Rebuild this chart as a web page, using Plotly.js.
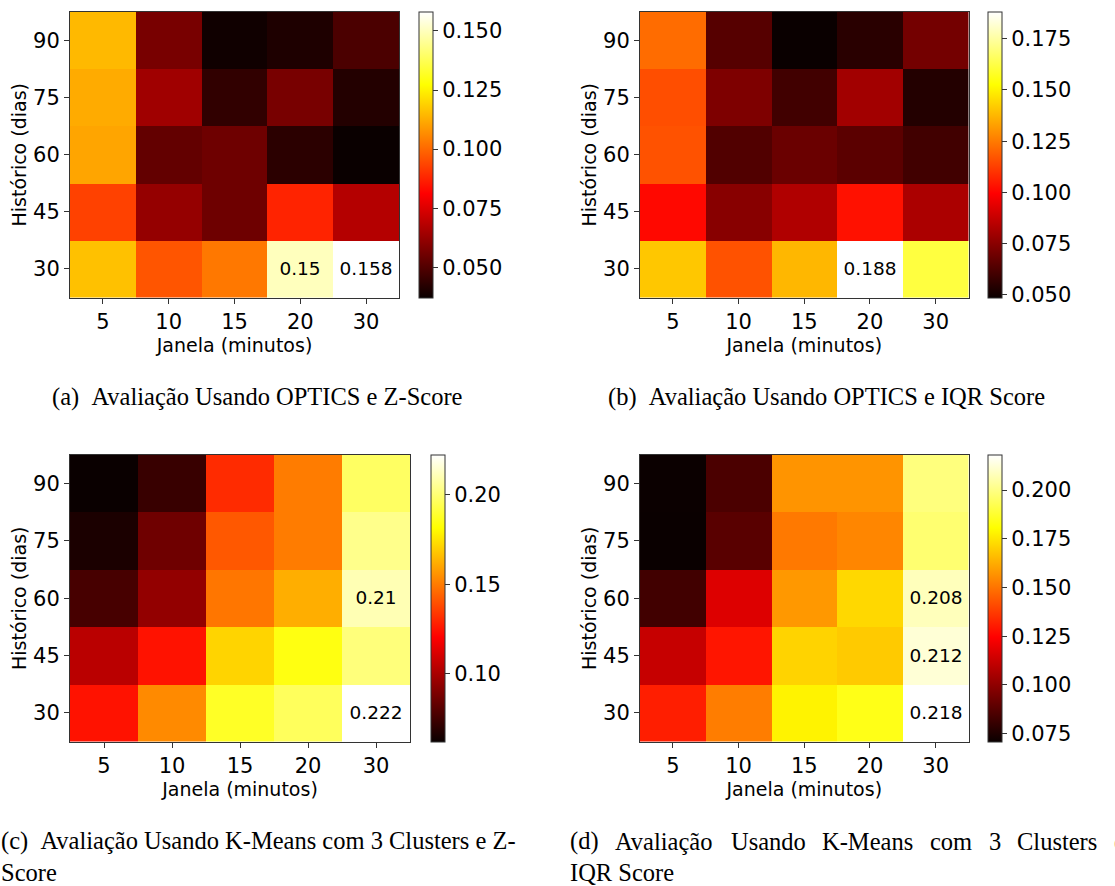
<!DOCTYPE html>
<html>
<head>
<meta charset="utf-8">
<script src="https://cdn.plot.ly/plotly-3.0.1.min.js"></script>
<style>
  html, body { margin: 0; padding: 0; background: #fff; }
  #chart { width: 1115px; height: 886px; }
</style>
</head>
<body>
<div id="chart"></div>
<script>
// Categories
const janela = ['5', '10', '15', '20', '30'];          // x: Janela (minutos)
const historico = ['30', '45', '60', '75', '90'];      // y: Histórico (dias), bottom to top

// (a) OPTICS e Z-Score — rows follow historico order
const zA = [
  [0.116, 0.0965, 0.1028, 0.150, 0.158],
  [0.093, 0.062, 0.055, 0.0875, 0.0676],
  [0.111, 0.053, 0.055, 0.043, 0.037],
  [0.112, 0.064, 0.044, 0.0568, 0.0415],
  [0.1146, 0.0568, 0.038, 0.0406, 0.0487]
];
const textA = [
  ['', '', '', '0.15', '0.158'],
  ['', '', '', '', ''],
  ['', '', '', '', ''],
  ['', '', '', '', ''],
  ['', '', '', '', '']
];
const ticksA = [0.050, 0.075, 0.100, 0.125, 0.150];

// (b) OPTICS e IQR Score
const zB = [
  [0.141, 0.1166, 0.1376, 0.188, 0.1615],
  [0.101, 0.0747, 0.083, 0.103, 0.082],
  [0.1166, 0.0632, 0.0684, 0.0653, 0.060],
  [0.1156, 0.0726, 0.060, 0.080, 0.0538],
  [0.122, 0.0642, 0.0485, 0.055, 0.0705]
];
const textB = [
  ['', '', '', '0.188', ''],
  ['', '', '', '', ''],
  ['', '', '', '', ''],
  ['', '', '', '', ''],
  ['', '', '', '', '']
];
const ticksB = [0.050, 0.075, 0.100, 0.125, 0.150, 0.175];

// (c) K-Means 3 Clusters e Z-Score
const zC = [
  [0.1246, 0.1535, 0.1875, 0.196, 0.222],
  [0.104, 0.1246, 0.171, 0.184, 0.201],
  [0.0766, 0.0946, 0.1486, 0.162, 0.210],
  [0.066, 0.0861, 0.1415, 0.150, 0.2035],
  [0.062, 0.073, 0.1306, 0.150, 0.197]
];
const textC = [
  ['', '', '', '', '0.222'],
  ['', '', '', '', ''],
  ['', '', '', '', '0.21'],
  ['', '', '', '', ''],
  ['', '', '', '', '']
];
const ticksC = [0.10, 0.15, 0.20];

// (d) K-Means 3 Clusters e IQR Score
const zD = [
  [0.131, 0.152, 0.178, 0.184, 0.218],
  [0.112, 0.129, 0.171, 0.169, 0.212],
  [0.0828, 0.117, 0.158, 0.172, 0.208],
  [0.0707, 0.088, 0.151, 0.154, 0.197],
  [0.0709, 0.085, 0.157, 0.157, 0.199]
];
const textD = [
  ['', '', '', '', '0.218'],
  ['', '', '', '', '0.212'],
  ['', '', '', '', '0.208'],
  ['', '', '', '', ''],
  ['', '', '', '', '']
];
const ticksD = [0.075, 0.100, 0.125, 0.150, 0.175, 0.200];

const xTitle = 'Janela (minutos)';
const yTitle = 'Histórico (dias)';

const captionA = '(a)\u2002Avaliação Usando OPTICS e Z-Score';
const captionB = '(b)\u2002Avaliação Usando OPTICS e IQR Score';
const captionC1 = '(c)\u2002Avaliação Usando K-Means com 3 Clusters e Z-';
const captionC2 = 'Score';
const captionD1Words = ['(d)', 'Avaliação', 'Usando', 'K-Means', 'com', '3', 'Clusters', 'e'];
const captionD2 = 'IQR Score';

// ---------- layout helpers ----------
const W = 1115, H = 886;
const px = v => v / W;
const py = v => 1 - v / H;

const hot = [
  [0, 'rgb(10,0,0)'],
  [0.365079, 'rgb(255,0,0)'],
  [0.746032, 'rgb(255,255,0)'],
  [1, 'rgb(255,255,255)']
];

const SANS = 'DejaVu Sans, sans-serif';
const SERIF = "'Liberation Serif', 'Times New Roman', serif";

const panels = [
  {z: zA, text: textA, ticks: ticksA, fmt: '.3f', x0: 70, x1: 399, y0: 12, y1: 297.5, cbx: 419},
  {z: zB, text: textB, ticks: ticksB, fmt: '.3f', x0: 640, x1: 968.5, y0: 12, y1: 297.5, cbx: 988},
  {z: zC, text: textC, ticks: ticksC, fmt: '.2f', x0: 70, x1: 410, y0: 455, y1: 741.5, cbx: 431},
  {z: zD, text: textD, ticks: ticksD, fmt: '.3f', x0: 640, x1: 968.5, y0: 455, y1: 741.5, cbx: 988}
];

const data = [];
const layout = {
  width: W, height: H,
  margin: {l: 0, r: 0, t: 0, b: 0},
  paper_bgcolor: '#fff', plot_bgcolor: '#fff',
  showlegend: false,
  font: {family: SANS, color: '#000'},
  annotations: []
};

panels.forEach((p, i) => {
  const n = i === 0 ? '' : String(i + 1);
  data.push({
    type: 'heatmap',
    x: janela, y: historico, z: p.z,
    text: p.text, texttemplate: '%{text}',
    textfont: {family: SANS, size: 18.5, color: '#000'},
    colorscale: hot,
    xaxis: 'x' + n, yaxis: 'y' + n,
    hoverinfo: 'skip',
    xgap: 0, ygap: 0,
    colorbar: {
      x: px(p.cbx), xanchor: 'left', xpad: 0, ypad: 0,
      y: py(p.y0), yanchor: 'top',
      lenmode: 'pixels', len: p.y1 - p.y0,
      thicknessmode: 'pixels', thickness: 14,
      outlinewidth: 1, outlinecolor: '#333',
      tickvals: p.ticks, tickformat: p.fmt,
      ticks: 'outside', ticklen: 5, tickwidth: 1, tickcolor: '#333',
      tickfont: {family: SANS, size: 21, color: '#000'}
    }
  });
  layout['xaxis' + n] = {
    domain: [px(p.x0), px(p.x1)],
    anchor: 'y' + n,
    type: 'category',
    showgrid: false, zeroline: false,
    showline: true, mirror: true, linecolor: '#333', linewidth: 1,
    ticks: 'outside', ticklen: 5, tickwidth: 1, tickcolor: '#333',
    tickfont: {family: SANS, size: 21, color: '#000'},
    title: {text: xTitle, font: {family: SANS, size: 19, color: '#000'}, standoff: 1},
    fixedrange: true
  };
  layout['yaxis' + n] = {
    domain: [py(p.y1), py(p.y0)],
    anchor: 'x' + n,
    type: 'category',
    showgrid: false, zeroline: false,
    showline: true, mirror: true, linecolor: '#333', linewidth: 1,
    ticks: 'outside', ticklen: 5, tickwidth: 1, tickcolor: '#333',
    tickfont: {family: SANS, size: 21, color: '#000'},
    title: {text: yTitle, font: {family: SANS, size: 19, color: '#000'}, standoff: 1},
    fixedrange: true
  };
});

function cap(text, x, y, anchor) {
  layout.annotations.push({
    text: text, xref: 'paper', yref: 'paper',
    x: px(x), y: py(y), xanchor: anchor, yanchor: 'middle',
    showarrow: false,
    font: {family: SERIF, size: 24.5, color: '#000'}
  });
}
cap(captionA, 257.5, 397, 'center');
cap(captionB, 826.5, 397, 'center');
cap(captionC1, -1, 841, 'left');
cap(captionC2, -1, 872, 'left');
const dPos = [568, 613, 729, 820, 928, 987, 1015, 1112];
captionD1Words.forEach((w, k) => cap(w, dPos[k], 841, 'left'));
cap(captionD2, 568, 872, 'left');

Plotly.newPlot('chart', data, layout, {displayModeBar: false, staticPlot: true});
</script>
</body>
</html>
